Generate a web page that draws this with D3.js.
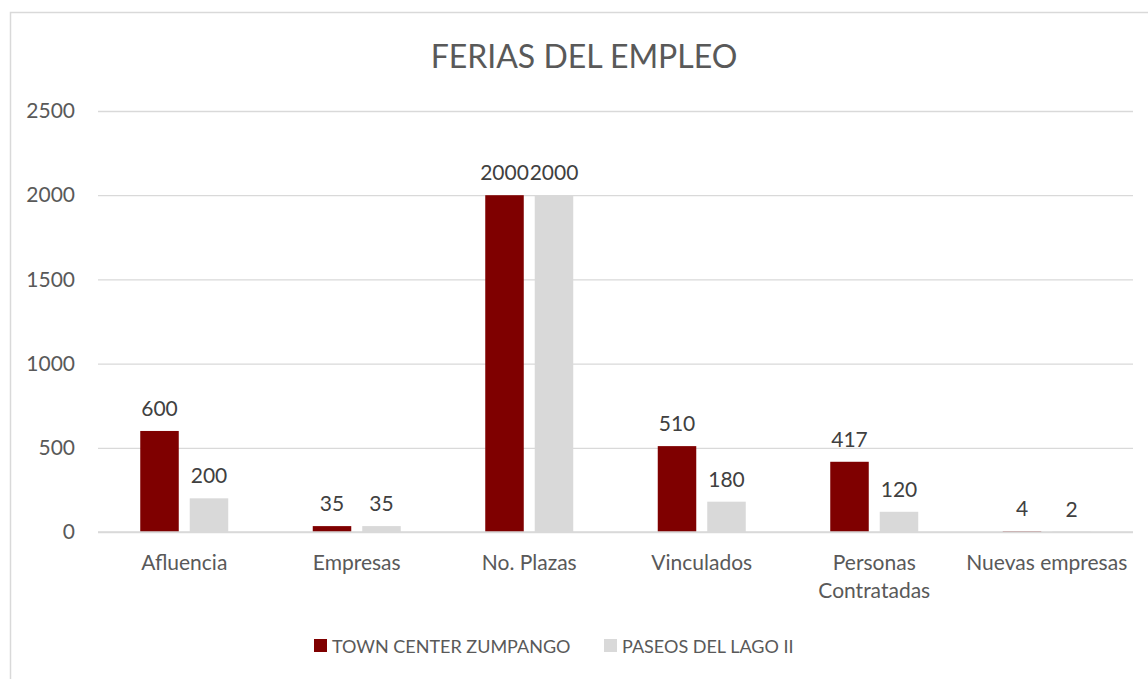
<!DOCTYPE html>
<html>
<head>
<meta charset="utf-8">
<script src="https://cdn.jsdelivr.net/npm/d3@7"></script>
<style>
  body { margin: 0; background: #fff; }
  text { font-family: Lato, "Open Sans", sans-serif; }
</style>
</head>
<body>
<div id="chart"></div>
<script>
var categories = [["Afluencia"], ["Empresas"], ["No. Plazas"], ["Vinculados"], ["Personas", "Contratadas"], ["Nuevas empresas"]];
var seriesNames = ["TOWN CENTER ZUMPANGO", "PASEOS DEL LAGO II"];
var townCenter = [600, 35, 2000, 510, 417, 4];
var paseosLago = [200, 35, 2000, 180, 120, 2];
var yTicks = [0, 500, 1000, 1500, 2000, 2500];
var colors = ["#7F0000", "#D9D9D9"];

var width = 1148, height = 679;
var margin = { left: 98, right: 15, top: 111, bottom: 147 };

var svg = d3.select("#chart").append("svg").attr("width", width).attr("height", height);

// chart area border
svg.append("rect").attr("x", 10.5).attr("y", 12.5).attr("width", 1200).attr("height", 800)
    .attr("fill", "none").attr("stroke", "#D9D9D9").attr("stroke-width", 1.5);

svg.append("text").attr("x", 584).attr("y", 68).attr("text-anchor", "middle")
    .attr("font-size", 32).attr("fill", "#595959").text("FERIAS DEL EMPLEO");

var x0 = d3.scaleBand().domain(d3.range(categories.length))
    .range([margin.left, width - margin.right]).padding(0);
var x1 = d3.scaleBand().domain([0, 1])
    .range([x0.bandwidth() / 2 - 44, x0.bandwidth() / 2 + 44]).paddingInner(0.222);
var y = d3.scaleLinear().domain([0, 2500]).range([height - margin.bottom, margin.top]);

// gridlines
var yAxis = d3.axisLeft(y).tickValues(yTicks).tickFormat(d3.format("d"))
    .tickSize(-(width - margin.left - margin.right)).tickPadding(23);
var gy = svg.append("g").attr("transform", "translate(" + margin.left + ",0)").call(yAxis);
gy.select(".domain").remove();
gy.selectAll(".tick line").attr("stroke", "#D9D9D9").attr("stroke-width", 1.3);
gy.selectAll(".tick text").attr("font-size", 21).attr("fill", "#595959")
    .attr("font-family", "Lato, 'Open Sans', sans-serif");

var values = [townCenter, paseosLago];
var groups = svg.selectAll(".cat").data(categories).enter().append("g")
    .attr("transform", function(d, i) { return "translate(" + x0(i) + ",0)"; });

groups.each(function(d, i) {
    var g = d3.select(this);
    values.forEach(function(vals, s) {
        g.append("rect").attr("x", x1(s)).attr("width", x1.bandwidth())
            .attr("y", y(vals[i])).attr("height", y(0) - y(vals[i]))
            .attr("fill", colors[s]);
        g.append("text").attr("x", x1(s) + x1.bandwidth() / 2).attr("y", y(vals[i]) - 15)
            .attr("text-anchor", "middle").attr("font-size", 21).attr("fill", "#404040")
            .text(vals[i]);
    });
    var lbl = g.append("text").attr("text-anchor", "middle").attr("font-size", 21).attr("fill", "#595959");
    d.forEach(function(line, k) {
        lbl.append("tspan").attr("x", x0.bandwidth() / 2).attr("y", 570 + k * 28).text(line);
    });
});

// x axis baseline
svg.append("line").attr("x1", margin.left).attr("x2", width - margin.right)
    .attr("y1", y(0)).attr("y2", y(0)).attr("stroke", "#D9D9D9").attr("stroke-width", 1.3);

// legend
var legendX = [314, 604];
seriesNames.forEach(function(name, s) {
    svg.append("rect").attr("x", legendX[s]).attr("y", 639).attr("width", 13).attr("height", 13)
        .attr("fill", colors[s]);
    svg.append("text").attr("x", legendX[s] + 18).attr("y", 653).attr("font-size", 18)
        .attr("fill", "#595959").text(name);
});
</script>
</body>
</html>
